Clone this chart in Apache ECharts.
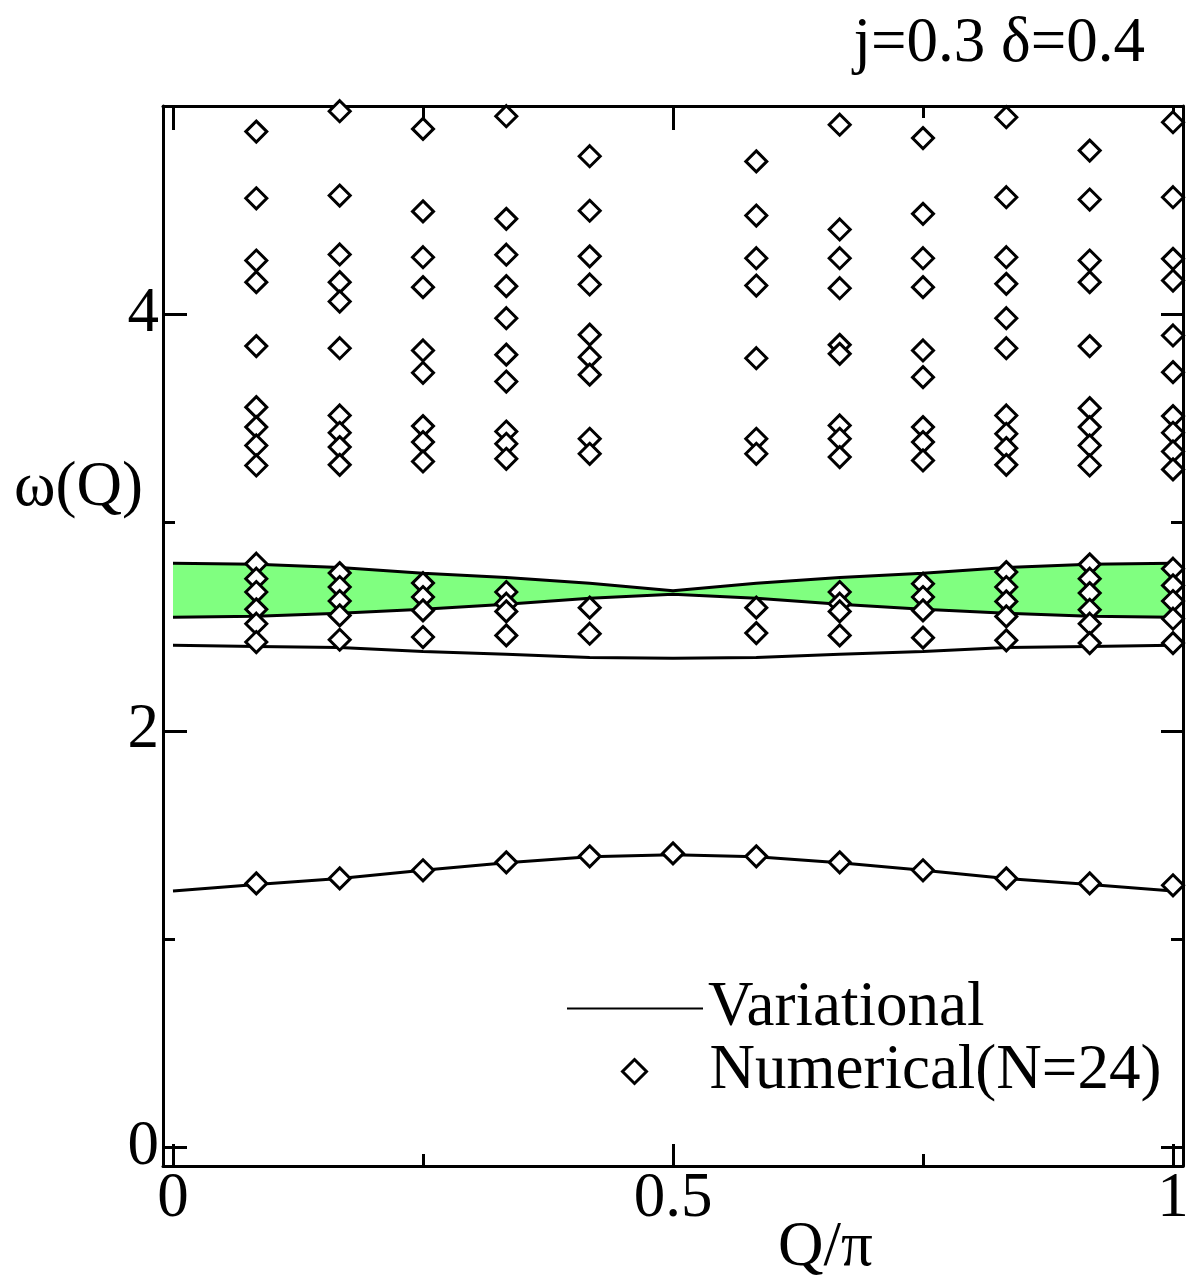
<!DOCTYPE html>
<html>
<head>
<meta charset="utf-8">
<title>omega(Q)</title>
<script src="https://cdn.jsdelivr.net/npm/echarts@6/dist/echarts.min.js"></script>
<style>
  html, body { margin: 0; padding: 0; background: #fff; }
  #chart { width: 1192px; height: 1278px; }
</style>
</head>
<body>
<div id="chart"></div>
<script>
// Q grid of the variational curves (Q/pi)
const qGrid = [0, 0.0833, 0.1667, 0.25, 0.3333, 0.4167, 0.5, 0.5833, 0.6667, 0.75, 0.8333, 0.9167, 1];

// variational curves
const bandUpper = [2.804, 2.799, 2.784, 2.756, 2.736, 2.708, 2.672, 2.708, 2.736, 2.756, 2.784, 2.799, 2.804];
const bandLower = [2.545, 2.550, 2.564, 2.583, 2.607, 2.636, 2.655, 2.636, 2.607, 2.583, 2.564, 2.550, 2.545];
const midCurve  = [2.410, 2.405, 2.400, 2.381, 2.367, 2.352, 2.348, 2.352, 2.367, 2.381, 2.400, 2.405, 2.410];
const lowCurve  = [1.230, 1.262, 1.290, 1.330, 1.366, 1.395, 1.405, 1.395, 1.366, 1.330, 1.290, 1.262, 1.230];

// numerical (N=24) levels, one list per Q column
const numQ = [0.0833, 0.1667, 0.25, 0.3333, 0.4167, 0.5, 0.5833, 0.6667, 0.75, 0.8333, 0.9167, 1];
const numLevels = [
  [4.877, 4.557, 4.258, 4.154, 3.847, 3.554, 3.458, 3.370, 3.274, 2.802, 2.730, 2.666, 2.583, 2.514, 2.426, 1.267],
  [4.975, 4.570, 4.287, 4.154, 4.061, 3.837, 3.514, 3.431, 3.362, 3.277, 2.757, 2.690, 2.623, 2.554, 2.437, 1.291],
  [4.890, 4.494, 4.274, 4.130, 3.826, 3.719, 3.463, 3.386, 3.293, 2.709, 2.642, 2.578, 2.450, 1.330],
  [4.951, 4.458, 4.286, 4.135, 3.981, 3.806, 3.677, 3.437, 3.378, 3.306, 2.666, 2.610, 2.573, 2.458, 1.368],
  [4.759, 4.497, 4.278, 4.143, 3.902, 3.794, 3.710, 3.402, 3.330, 2.591, 2.466, 1.397],
  [1.411],
  [4.734, 4.474, 4.269, 4.138, 3.789, 3.402, 3.330, 2.591, 2.469, 1.397],
  [4.910, 4.407, 4.269, 4.125, 3.853, 3.810, 3.466, 3.402, 3.314, 2.666, 2.610, 2.573, 2.458, 1.368],
  [4.846, 4.482, 4.269, 4.130, 3.826, 3.698, 3.458, 3.386, 3.298, 2.706, 2.642, 2.578, 2.447, 1.330],
  [4.946, 4.562, 4.274, 4.146, 3.981, 3.837, 3.514, 3.426, 3.357, 3.277, 2.762, 2.690, 2.621, 2.549, 2.434, 1.291],
  [4.786, 4.551, 4.258, 4.154, 3.847, 3.549, 3.458, 3.370, 3.274, 2.799, 2.730, 2.661, 2.581, 2.514, 2.421, 1.267],
  [4.922, 4.562, 4.266, 4.162, 3.898, 3.722, 3.511, 3.431, 3.341, 3.255, 2.778, 2.698, 2.623, 2.538, 2.421, 1.258]
];

// ticks
const xMajor = [0, 0.5, 1];
const xMinor = [0.25, 0.75];
const yMajor = [0, 2, 4];
const yMinor = [1, 3, 5];

const FONT = 'Liberation Serif';
const chart = echarts.init(document.getElementById('chart'));

function xAxis(grid, pos, ticks, len, labels) {
  return {
    type: 'value', gridIndex: grid, position: pos, min: -0.01, max: 1.01,
    splitLine: { show: false },
    axisLine: { show: grid === 0, onZero: false, lineStyle: { color: '#000', width: 3 } },
    axisTick: { inside: true, length: len, customValues: ticks, lineStyle: { color: '#000', width: 3 } },
    axisLabel: {
      show: labels, customValues: ticks, margin: 2,
      fontFamily: FONT, fontSize: 63, color: '#000'
    }
  };
}

function yAxis(grid, pos, ticks, len, labels) {
  return {
    type: 'value', gridIndex: grid, position: pos, min: -0.09, max: 5.0,
    splitLine: { show: false },
    axisLine: { show: grid === 0, onZero: false, lineStyle: { color: '#000', width: 3 } },
    axisTick: { inside: true, length: len, customValues: ticks, lineStyle: { color: '#000', width: 3 } },
    axisLabel: {
      show: labels, customValues: ticks, margin: 4, padding: [0, 0, 8, 0],
      fontFamily: FONT, fontSize: 63, color: '#000'
    }
  };
}

const pts = (ys) => qGrid.map((q, i) => [q, ys[i]]);

const numData = [];
numQ.forEach((q, i) => numLevels[i].forEach(w => numData.push([q, w])));

const lineBase = {
  type: 'line', xAxisIndex: 0, yAxisIndex: 0, symbol: 'none',
  lineStyle: { color: '#000', width: 3 }, itemStyle: { color: '#000' }
};

const legendText = { fontFamily: FONT, fontSize: 63, lineHeight: 63, color: '#000' };

chart.setOption({
  animation: false,
  backgroundColor: '#fff',
  textStyle: { fontFamily: FONT },
  grid: [
    { left: 163, top: 106, width: 1020, height: 1060 },
    { left: 163, top: 106, width: 1020, height: 1060 }
  ],
  title: [
    { text: 'j=0.3 δ=0.4', right: 42, top: 8,
      textStyle: { fontFamily: FONT, fontSize: 63, fontWeight: 'normal', color: '#000' } },
    { text: 'ω(Q)', left: 9, top: 452,
      textStyle: { fontFamily: FONT, fontSize: 63, fontWeight: 'normal', color: '#000' } },
    { text: 'Q/π', left: 773, top: 1212,
      textStyle: { fontFamily: FONT, fontSize: 63, fontWeight: 'normal', color: '#000' } }
  ],
  legend: [
    {
      orient: 'vertical', left: 561, top: 972,
      itemWidth: 136, itemHeight: 24,
      data: [{ name: 'Variational', itemStyle: { opacity: 0 } }],
      textStyle: legendText, selectedMode: false
    },
    {
      orient: 'vertical', left: 616, top: 1035,
      itemWidth: 24, itemHeight: 24,
      data: [{ name: 'Numerical(N=24)', itemStyle: { color: '#fff', borderColor: '#000', borderWidth: 3 } }],
      textStyle: Object.assign({ padding: [0, 0, 0, 58] }, legendText), selectedMode: false
    }
  ],
  xAxis: [
    xAxis(0, 'bottom', xMajor, 22, true),
    xAxis(0, 'top', xMajor, 24, false),
    xAxis(1, 'bottom', xMinor, 12, false),
    xAxis(1, 'top', xMinor, 12, false)
  ],
  yAxis: [
    yAxis(0, 'left', yMajor, 24, true),
    yAxis(0, 'right', yMajor, 22, false),
    yAxis(1, 'left', yMinor, 12, false),
    yAxis(1, 'right', yMinor, 12, false)
  ],
  series: [
    {
      // green region between the two band curves
      name: 'band', type: 'custom', xAxisIndex: 0, yAxisIndex: 0, z: 1,
      data: [[0.5, bandUpper[6]]],
      renderItem: function (params, api) {
        const up = qGrid.map((q, i) => api.coord([q, bandUpper[i]]));
        const lo = qGrid.map((q, i) => api.coord([q, bandLower[i]])).reverse();
        return {
          type: 'polygon',
          shape: { points: up.concat(lo) },
          style: { fill: '#80ff80', stroke: null }
        };
      }
    },
    Object.assign({}, lineBase, { name: 'bandUpper', data: pts(bandUpper), z: 4 }),
    Object.assign({}, lineBase, { name: 'bandLower', data: pts(bandLower), z: 4 }),
    Object.assign({}, lineBase, { name: 'mid', data: pts(midCurve), z: 4 }),
    Object.assign({}, lineBase, { name: 'Variational', data: pts(lowCurve), z: 4 }),
    {
      name: 'Numerical(N=24)', type: 'scatter', xAxisIndex: 0, yAxisIndex: 0,
      symbol: 'diamond', symbolSize: 21, data: numData, z: 6,
      itemStyle: { color: '#fff', borderColor: '#000', borderWidth: 3, opacity: 1 }
    }
  ]
});
</script>
</body>
</html>
